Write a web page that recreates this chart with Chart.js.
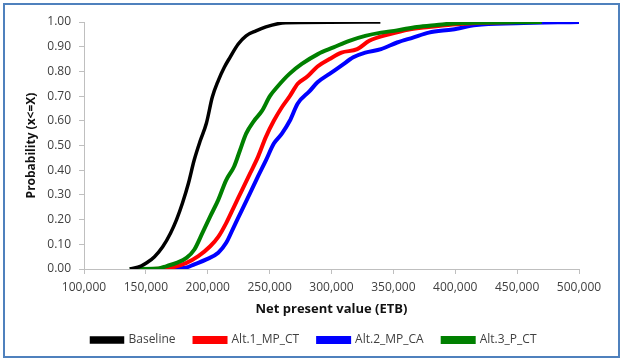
<!DOCTYPE html>
<html>
<head>
<meta charset="utf-8">
<script src="https://cdn.jsdelivr.net/npm/chart.js@4.4.1/dist/chart.umd.min.js"></script>
<style>
  html, body { margin: 0; padding: 0; background: #fff; }
  #wrap { position: relative; width: 623px; height: 361px; }
  #frame { position: absolute; left: 3px; top: 3px; width: 613px; height: 351px; border: 2px solid #4f81bd; pointer-events: none; }
  canvas { position: absolute; left: 0; top: 0; }
</style>
</head>
<body>
<div id="wrap">
  <canvas id="cdfChart" width="623" height="361"></canvas>
  <div id="frame"></div>
</div>
<script>
// cumulative probability curves
const seriesNames = ["Baseline", "Alt.1_MP_CT", "Alt.2_MP_CA", "Alt.3_P_CT"];
const seriesColors = ["#000000", "#ff0000", "#0000ff", "#008000"];

const baselineNpv  = [137000, 146000, 150700, 157000, 163600, 170000, 174800, 179600, 184400, 189000, 194000, 198900, 203700, 208500, 213300, 218000, 224500, 231000, 239000, 247000, 256600, 263000, 339500];
const baselineProb = [0.000, 0.012, 0.025, 0.050, 0.090, 0.146, 0.200, 0.267, 0.347, 0.440, 0.520, 0.590, 0.696, 0.763, 0.816, 0.857, 0.910, 0.944, 0.964, 0.980, 0.993, 0.997, 1.000];

const alt1Npv  = [150000, 167000, 182800, 192400, 202000, 208500, 214900, 221300, 227800, 234200, 240600, 247000, 253400, 259900, 266300, 272700, 280700, 288700, 298400, 308000, 320800, 330500, 346500, 362600, 378600, 397900, 417000, 449000];
const alt1Prob = [0.000, 0.003, 0.025, 0.052, 0.092, 0.130, 0.186, 0.253, 0.320, 0.387, 0.454, 0.535, 0.600, 0.655, 0.700, 0.750, 0.780, 0.820, 0.850, 0.876, 0.890, 0.924, 0.950, 0.970, 0.980, 0.990, 0.996, 1.000];

const alt2Npv  = [170000, 182000, 189200, 198900, 208500, 214900, 221300, 227800, 234200, 240600, 247000, 253400, 259900, 266300, 272700, 282300, 288700, 298400, 308000, 317600, 327300, 340000, 353000, 365800, 378600, 397900, 417000, 449000, 500000];
const alt2Prob = [0.000, 0.005, 0.019, 0.039, 0.066, 0.106, 0.173, 0.240, 0.307, 0.375, 0.440, 0.508, 0.548, 0.600, 0.670, 0.720, 0.756, 0.790, 0.823, 0.857, 0.876, 0.890, 0.917, 0.937, 0.957, 0.970, 0.988, 0.995, 1.000];

const alt3Npv  = [137000, 160000, 166800, 174800, 182800, 189200, 195700, 202000, 208500, 214900, 221300, 226000, 231000, 237400, 243800, 250200, 256600, 266000, 276000, 289000, 301600, 314400, 327300, 340000, 353000, 369000, 385000, 401000, 470000];
const alt3Prob = [0.000, 0.002, 0.012, 0.025, 0.045, 0.079, 0.146, 0.213, 0.280, 0.360, 0.415, 0.480, 0.548, 0.600, 0.640, 0.700, 0.740, 0.790, 0.830, 0.870, 0.897, 0.924, 0.944, 0.957, 0.966, 0.980, 0.988, 0.995, 1.000];

const xTicks = [100000, 150000, 200000, 250000, 300000, 350000, 400000, 450000, 500000];
const yTicks = [0, 0.1, 0.2, 0.3, 0.4, 0.5, 0.6, 0.7, 0.8, 0.9, 1.0];

function zip(xs, ys) {
  return xs.map((x, i) => ({ x: x, y: ys[i] }));
}

const allNpv = [baselineNpv, alt1Npv, alt2Npv, alt3Npv];
const allProb = [baselineProb, alt1Prob, alt2Prob, alt3Prob];

const datasets = seriesNames.map((name, i) => ({
  label: name,
  data: zip(allNpv[i], allProb[i]),
  borderColor: seriesColors[i],
  backgroundColor: seriesColors[i],
  borderWidth: i === 0 ? 3.5 : 4,
  pointRadius: 0,
  cubicInterpolationMode: "monotone",
  fill: false
}));

// baseline on top, blue at the back
const ordered = [datasets[0], datasets[3], datasets[1], datasets[2]];
ordered.forEach((d, i) => d.order = i);

const axisGrey = "#bfbfbf";
const fontFamily = "'Open Sans', sans-serif";
const tickFont = { family: fontFamily, size: 12 };

new Chart(document.getElementById("cdfChart"), {
  type: "line",
  data: { datasets: datasets },
  options: {
    responsive: false,
    animation: false,
    layout: { padding: { left: 5, right: 0, top: 22, bottom: 5 } },
    scales: {
      x: {
        type: "linear",
        min: 100000,
        max: 500000,
        afterBuildTicks: axis => { axis.ticks = xTicks.map(v => ({ value: v })); },
        afterFit: axis => { axis.height = 46; },
        ticks: {
          color: "#404040",
          font: tickFont,
          maxRotation: 0,
          padding: 6,
          callback: v => v.toLocaleString("en-US")
        },
        grid: { display: true, drawOnChartArea: false, tickLength: 5, color: axisGrey },
        border: { color: axisGrey, width: 1 },
        title: {
          display: true,
          text: "Net present value (ETB)",
          color: "#111",
          font: { family: fontFamily, size: 13, weight: "bold" },
          padding: { top: 0, bottom: -2 }
        }
      },
      y: {
        min: 0,
        max: 1,
        afterBuildTicks: axis => { axis.ticks = yTicks.map(v => ({ value: v })); },
        afterFit: axis => { axis.width = 79; },
        ticks: {
          color: "#404040",
          font: tickFont,
          padding: 8,
          callback: v => v.toFixed(2)
        },
        grid: { display: true, drawOnChartArea: false, tickLength: 5, color: axisGrey },
        border: { color: axisGrey, width: 1 },
        title: {
          display: true,
          text: "Probability (x<=X)",
          color: "#111",
          font: { family: fontFamily, size: 12, weight: "bold" },
          padding: { top: 19, bottom: 19 }
        }
      },
      // empty strip that keeps the plot clear of the right edge
      spacer: {
        type: "linear",
        position: "right",
        min: 0,
        max: 1,
        afterFit: axis => { axis.width = 44; },
        ticks: { display: false },
        grid: { display: false },
        border: { display: false }
      }
    },
    plugins: {
      legend: {
        position: "bottom",
        labels: {
          boxWidth: 31,
          boxHeight: 4,
          padding: 19,
          color: "#404040",
          font: tickFont,
          sort: (a, b) => a.datasetIndex - b.datasetIndex
        }
      },
      tooltip: { enabled: false }
    }
  }
});
</script>
</body>
</html>
